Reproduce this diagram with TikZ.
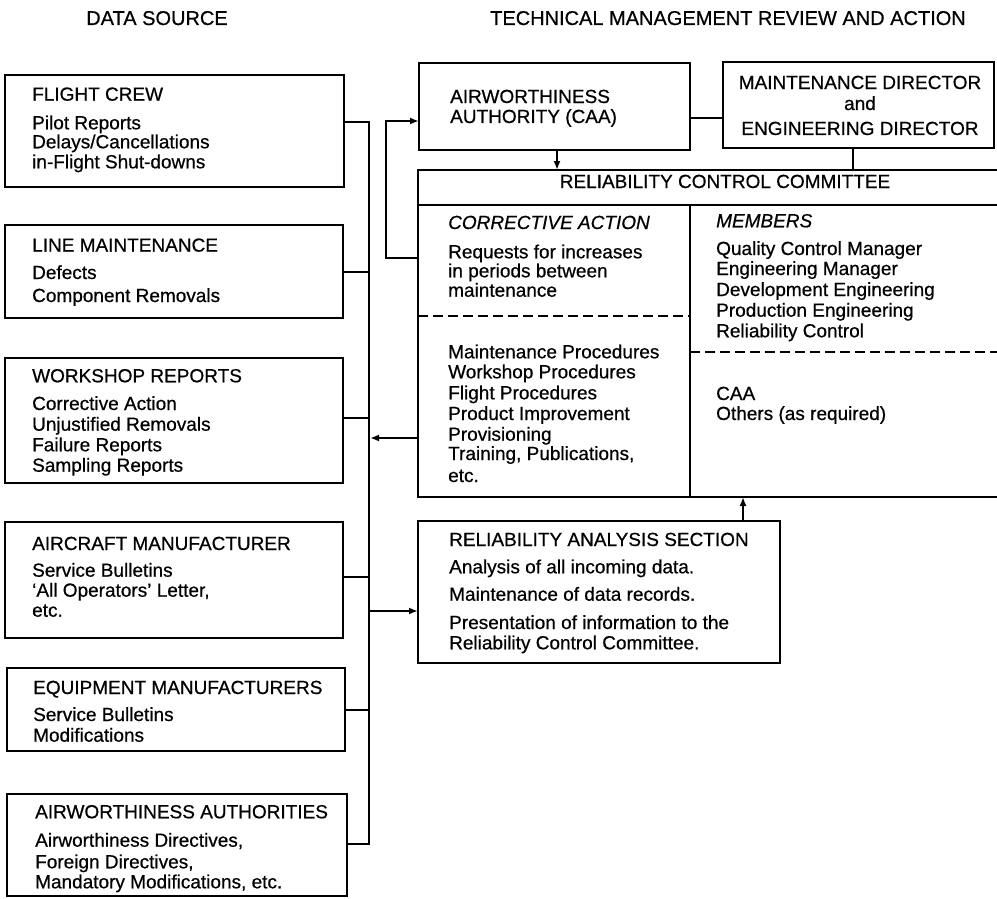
\documentclass[tikz,border=0pt]{standalone}
\usepackage{fontspec}
\setmainfont{Liberation Sans}[FakeBold=0.6]
\usetikzlibrary{arrows.meta}
\newcommand\bodyfont{\fontsize{19}{20}\selectfont}
\newcommand\headfont{\fontsize{20}{22}\selectfont}
% \mkbox[options]{name}{x1}{y1}{x2}{y2}: a framed panel between two corners
\newcommand\mkbox[6][panel]{%
  \node[#1,minimum width={#5-#3},minimum height={#6-#4}] (#2) at ({(#3+#5)/2},{(#4+#6)/2}) {};}

\begin{document}
\begin{tikzpicture}[x=1pt,y=-1pt,
  panel/.style={draw,line width=2pt,inner sep=0pt,outer sep=0pt},
  ghost/.style={inner sep=0pt,outer sep=0pt},
  wire/.style={line width=1.8pt},
  feed/.style={wire,-{Latex[length=9pt,width=7pt]}},
  txt/.style={anchor=base west,inner sep=0pt,font=\bodyfont},
  ctxt/.style={anchor=base,inner sep=0pt,font=\bodyfont},
  divide/.style={line width=1.8pt,dash pattern=on 10pt off 5pt}]
\useasboundingbox (0,0) rectangle (997,899);

% column headings
\node[anchor=base,inner sep=0pt,font=\headfont] (hsrc) at (157,25) {DATA SOURCE};
\node[anchor=base,inner sep=0pt,font=\headfont] (hmgt) at (728,25) {TECHNICAL MANAGEMENT REVIEW AND ACTION};

% data source panels
\mkbox{fc}{5}{75}{344}{187}
\mkbox{lm}{5}{225}{343}{318}
\mkbox{ws}{5}{358}{343}{483}
\mkbox{am}{5}{522}{343}{638}
\mkbox{em}{7}{668}{345}{751}
\mkbox{aw}{7}{794}{347}{896}

% management panels
\mkbox{aa}{419}{63}{690}{150}
\mkbox{md}{723}{62}{994}{148}
\mkbox[ghost]{cmt}{418}{170}{997}{497}
\mkbox{ra}{418}{521}{780}{663}

% committee frame, open on the right
\draw[line width=2pt] (cmt.north east) -- (cmt.north west) -- (cmt.south west) -- (cmt.south east);
\draw[line width=2pt] (cmt.west |- 0,205) -- (cmt.east |- 0,205);
\draw[line width=2pt] (690,205) -- (690,497);
\draw[divide] (cmt.west |- 0,316) -- (690,316);
\draw[divide] (690,352) -- (cmt.east |- 0,352);

% collecting bus of the data sources
\coordinate (bustop) at (369,122);
\coordinate (busbot) at (369,844);
\draw[wire] (fc.east |- bustop) -- (bustop) -- (busbot) -- (aw.east |- busbot);
\foreach \n/\y in {lm/272, ws/418, am/577, em/710}
  \draw[wire] (\n.east |- 0,\y) -- (369,\y);

% flows
\coordinate (busin) at (370,438);
\coordinate (busout) at (369,611);
\coordinate (fbk) at (386,258);
\draw[feed] (cmt.west |- busin) -- (busin);
\draw[feed] (busout) -- (ra.west |- busout);
\draw[feed] (cmt.west |- fbk) -- (fbk) -- (386,121) -- (aa.west |- 0,121);
\draw[feed] (aa.south -| 557,0) -- (cmt.north -| 557,0);
\draw[wire] (aa.east |- 0,118) -- (md.west |- 0,118);
\draw[wire] (md.south -| 853,0) -- (cmt.north -| 853,0);
\draw[feed] (ra.north -| 743,0) -- (cmt.south -| 743,0);

% data source texts
\foreach \y/\s [count=\i] in {100.7/FLIGHT CREW, 129.3/Pilot Reports,
    148.3/Delays\slash Cancellations, 168.3/in-Flight Shut-downs}
  \node[txt] (fct\i) at (32,\y) {\s};
\foreach \y/\s [count=\i] in {251.7/LINE MAINTENANCE, 279/Defects, 302/Component Removals}
  \node[txt] (lmt\i) at (32,\y) {\s};
\foreach \y/\s [count=\i] in {382.3/WORKSHOP REPORTS, 410/Corrective Action,
    430.7/Unjustified Removals, 451.3/Failure Reports, 471.7/Sampling Reports}
  \node[txt] (wst\i) at (32,\y) {\s};
\foreach \y/\s [count=\i] in {550/AIRCRAFT MANUFACTURER, 576.7/Service Bulletins,
    596.7/{`All Operators' Letter,}, 616.7/etc.}
  \node[txt] (amt\i) at (32,\y) {\s};
\foreach \y/\s [count=\i] in {694/EQUIPMENT MANUFACTURERS, 721/Service Bulletins, 741.7/Modifications}
  \node[txt] (emt\i) at (33,\y) {\s};
\foreach \y/\s [count=\i] in {818.3/AIRWORTHINESS AUTHORITIES, 846.7/{Airworthiness Directives,},
    868.3/{Foreign Directives,}, 888.3/{Mandatory Modifications, etc.}}
  \node[txt] (awt\i) at (35,\y) {\s};

% management texts
\node[txt] (aat1) at (450,103) {AIRWORTHINESS};
\node[txt] (aat2) at (450,123) {AUTHORITY (CAA)};
\node[ctxt] (mdt1) at (860,89) {MAINTENANCE DIRECTOR};
\node[ctxt] (mdt2) at (860,110) {and};
\node[ctxt] (mdt3) at (860,135) {ENGINEERING DIRECTOR};
\node[ctxt] (cmtt) at (725,188) {RELIABILITY CONTROL COMMITTEE};

\node[txt,font=\bodyfont\itshape] (cat0) at (448,229) {CORRECTIVE ACTION};
\foreach \y/\s [count=\i] in {258.3/Requests for increases, 277.3/in periods between,
    296.7/maintenance, 358.3/Maintenance Procedures, 378.3/Workshop Procedures,
    399.3/Flight Procedures, 420/Product Improvement, 440.7/Provisioning,
    460/{Training, Publications,}, 482/etc.}
  \node[txt] (cat\i) at (448,\y) {\s};

\node[txt,font=\bodyfont\itshape] (mbt0) at (716,227.3) {MEMBERS};
\foreach \y/\s [count=\i] in {255/Quality Control Manager, 275/Engineering Manager,
    296/Development Engineering, 316.7/Production Engineering, 337.3/Reliability Control,
    400/CAA, 420/Others (as required)}
  \node[txt] (mbt\i) at (716,\y) {\s};

\foreach \y/\s [count=\i] in {546/RELIABILITY ANALYSIS SECTION, 573.3/Analysis of all incoming data.,
    600.7/Maintenance of data records., 629/Presentation of information to the,
    649.3/Reliability Control Committee.}
  \node[txt] (rat\i) at (449,\y) {\s};
\end{tikzpicture}
\end{document}
